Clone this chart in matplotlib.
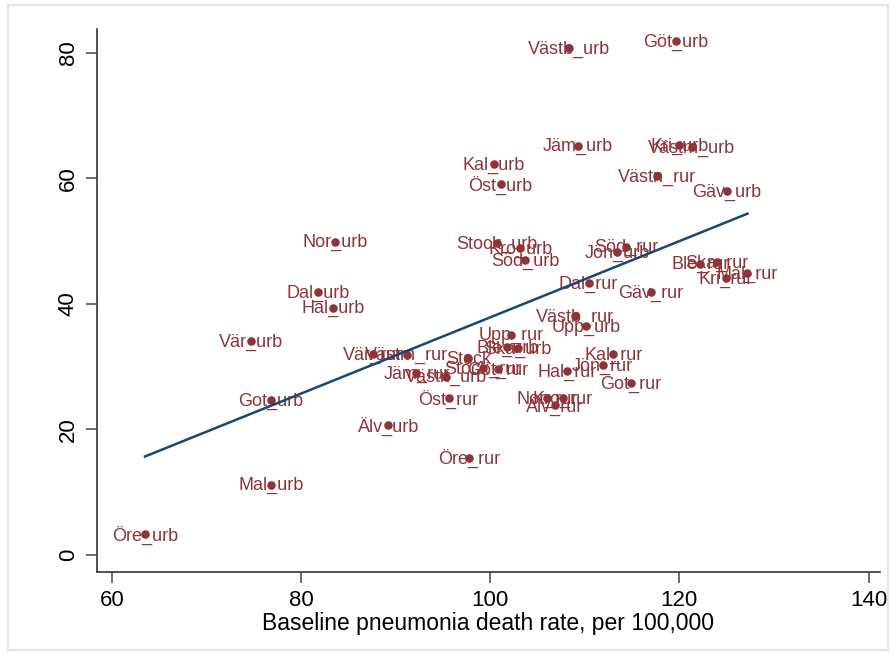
import matplotlib.pyplot as plt
import numpy as np
from matplotlib.patches import Rectangle

plt.rcParams["font.family"] = ["Liberation Sans", "DejaVu Sans"]

labels = [
    "Stock_urb", "Upp_urb", "Söd_urb", "Öst_urb", "Jön_urb", "Kro_urb",
    "Kal_urb", "Got_urb", "Ble_urb", "Kri_urb", "Mal_urb", "Hal_urb",
    "Göt_urb", "Älv_urb", "Ska_urb", "Vär_urb", "Öre_urb", "Västm_urb",
    "Dal_urb", "Gäv_urb", "Västn_urb", "Jäm_urb", "Västb_urb", "Nor_urb",
    "Stock_rur", "Upp_rur", "Söd_rur", "Öst_rur", "Jön_rur", "Kro_rur",
    "Kal_rur", "Got_rur", "Ble_rur", "Kri_rur", "Mal_rur", "Hal_rur",
    "Göt_rur", "Älv_rur", "Ska_rur", "Vär_rur", "Öre_rur", "Västm_rur",
    "Dal_rur", "Gäv_rur", "Västn_rur", "Jäm_rur", "Västb_rur", "Nor_rur",
    "Stock",
]
baseline = [
    100.7, 110.1, 103.7, 101.1, 113.4, 103.2,
    100.4, 76.8, 101.8, 120.0, 76.8, 83.4,
    119.6, 89.2, 102.9, 74.7, 63.5, 121.3,
    81.8, 125.0, 95.3, 109.3, 108.3, 83.6,
    99.2, 102.2, 114.4, 95.6, 111.9, 107.7,
    113.0, 114.9, 122.2, 124.9, 127.2, 108.1,
    100.8, 106.8, 124.0, 87.6, 97.8, 91.2,
    110.4, 117.0, 117.6, 92.2, 109.0, 106.0,
    97.7,
]
excess = [
    49.7, 36.5, 47.0, 59.1, 48.3, 48.9,
    62.2, 24.7, 33.1, 65.3, 11.2, 39.4,
    81.8, 20.7, 33.0, 34.1, 3.3, 65.0,
    41.8, 58.0, 28.4, 65.2, 80.8, 49.9,
    29.8, 35.1, 49.1, 25.0, 30.3, 25.0,
    32.0, 27.3, 46.4, 44.1, 44.9, 29.3,
    29.6, 23.9, 46.7, 32.0, 15.5, 31.9,
    43.3, 41.8, 60.4, 29.0, 38.1, 25.0,
    31.4,
]

x = np.array(baseline)
y = np.array(excess)
slope, intercept = np.polyfit(x, y, 1)
xs = np.array([x.min(), x.max()])

fig = plt.figure(figsize=(8.96, 6.55), dpi=100)
fig.patches.append(Rectangle((0.009, 0.008), 0.982, 0.984, transform=fig.transFigure,
                             fill=False, edgecolor="#dde6ee", linewidth=1.5))
ax = fig.add_axes([0.108, 0.127, 0.874, 0.829])

red = "#8e3439"
ax.scatter(x, y, s=38, color=red, zorder=3, linewidths=0)
for lab, xi, yi in zip(labels, x, y):
    ax.text(xi, yi - 0.2, lab, ha="center", va="center", fontsize=13, color=red, zorder=2)
ax.plot(xs, intercept + slope * xs, color="#1a476f", linewidth=1.8, zorder=4)

ax.set_xlim(58.4, 141.2)
ax.set_ylim(-2.7, 83.8)
ax.set_xticks([60, 80, 100, 120, 140])
ax.set_yticks([0, 20, 40, 60, 80])
ax.set_yticklabels(["0", "20", "40", "60", "80"], rotation=90, va="center")
ax.tick_params(direction="out", length=8, width=1.2, color="#555555", labelsize=16, pad=5)
ax.set_xlabel("Baseline pneumonia death rate, per 100,000", fontsize=16.5, labelpad=1)
for side in ["top", "right"]:
    ax.spines[side].set_visible(False)
for side in ["left", "bottom"]:
    ax.spines[side].set_color("#333333")
    ax.spines[side].set_linewidth(1.2)

fig.savefig("out.png", dpi=100)
